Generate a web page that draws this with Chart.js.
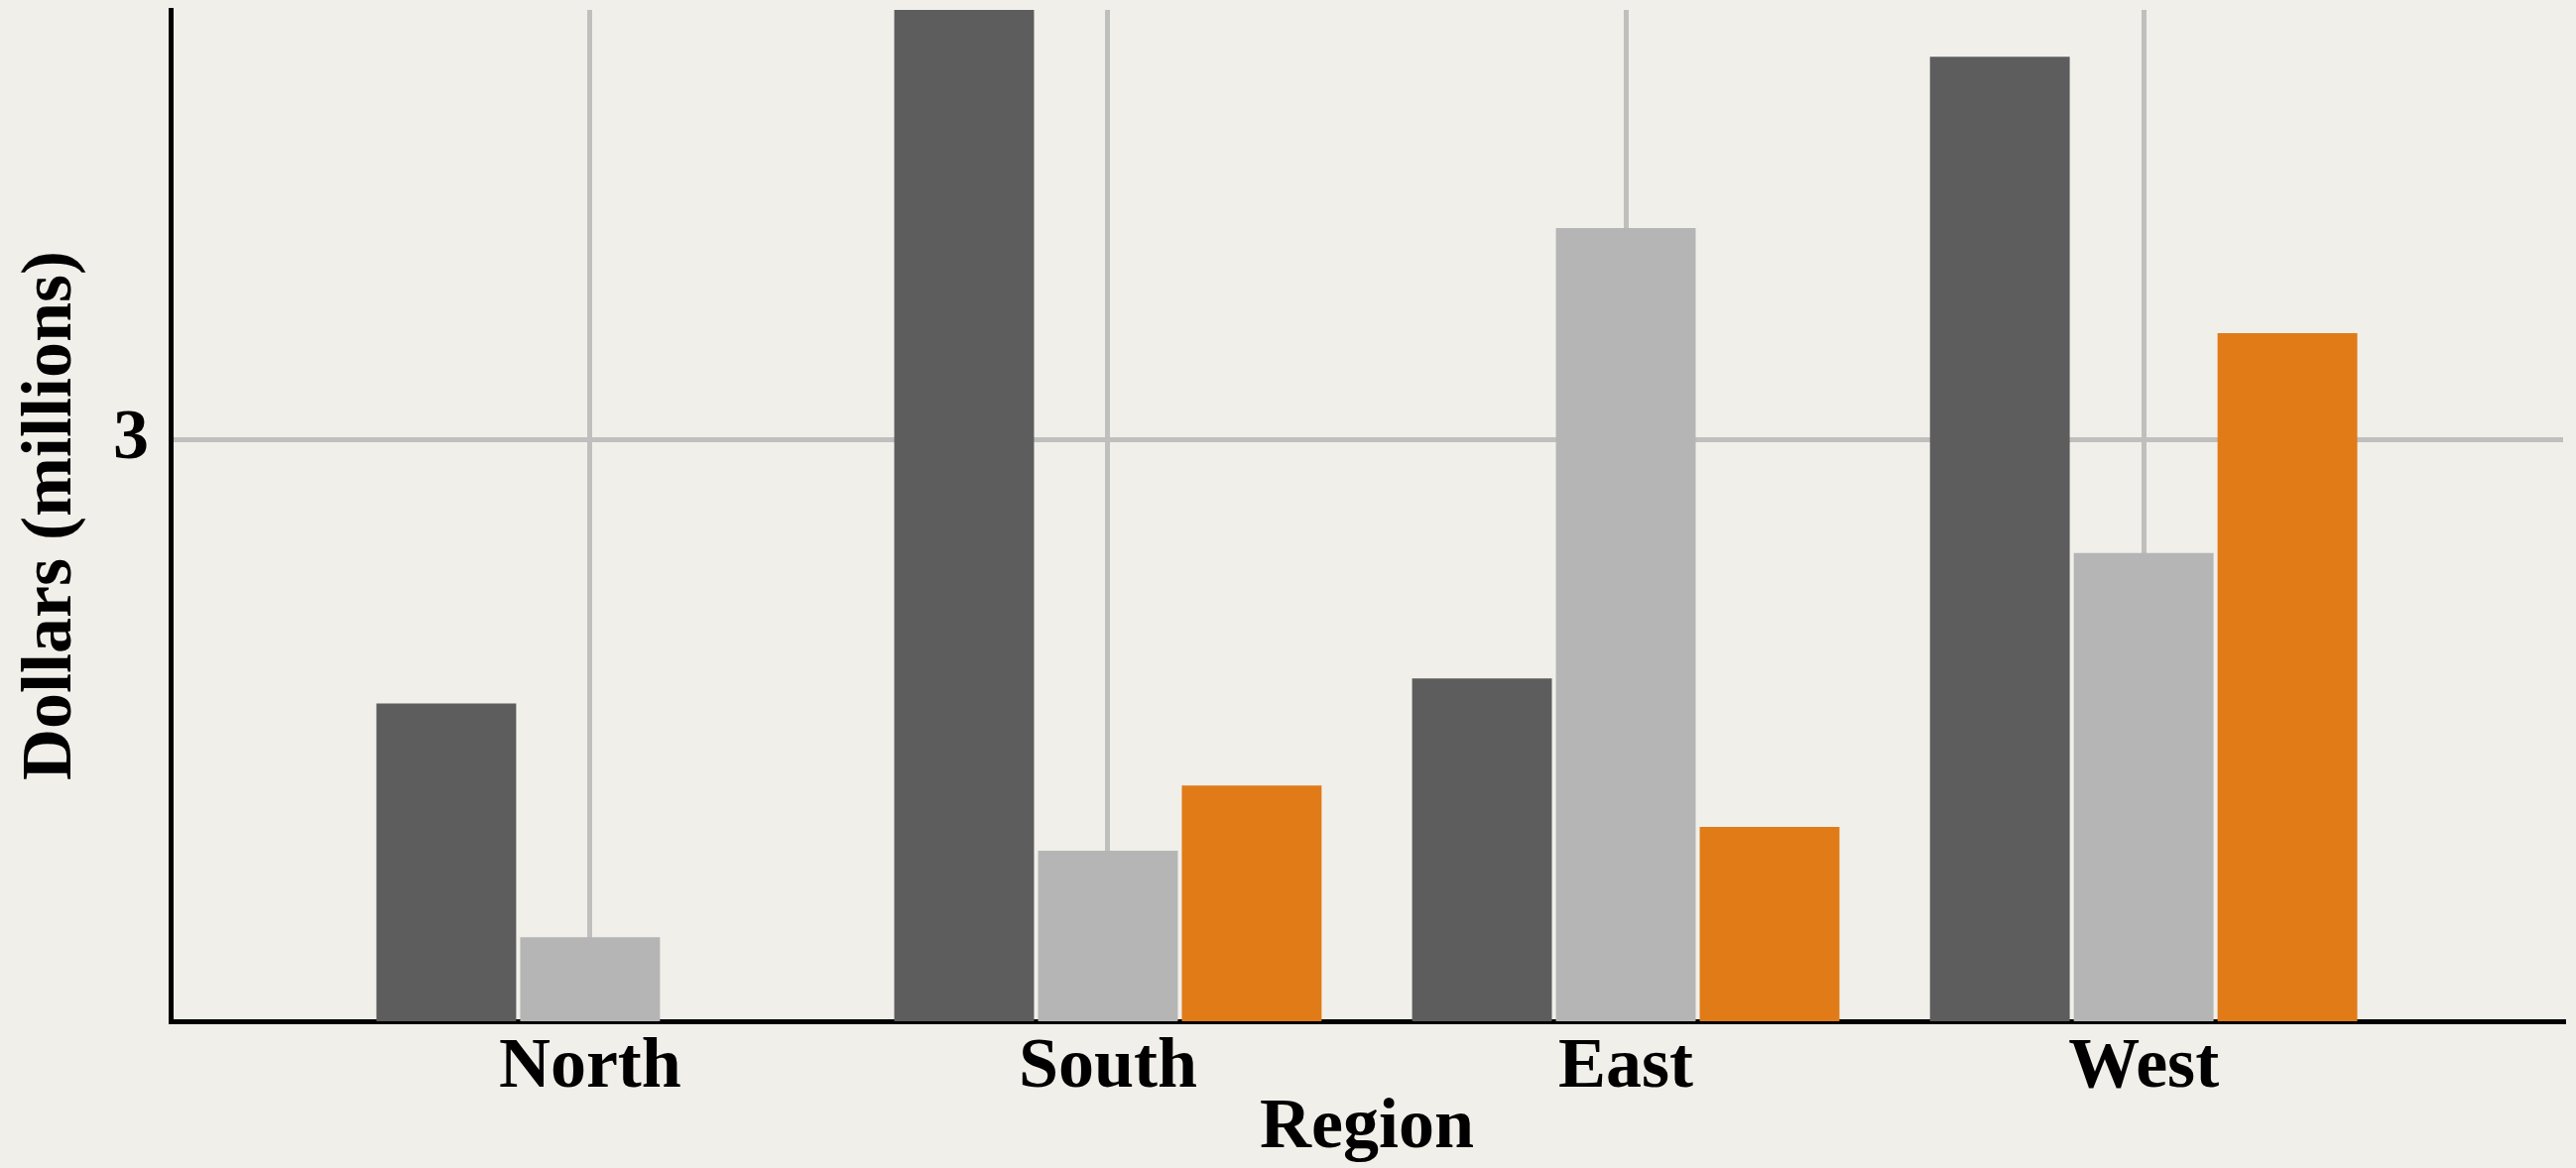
<!DOCTYPE html>
<html>
<head>
<meta charset="utf-8">
<script src="https://cdn.jsdelivr.net/npm/chart.js"></script>
<style>
  body { margin: 0; background: #f0efea; }
  #wrap { width: 2597px; height: 1178px; }
</style>
</head>
<body>
<div id="wrap"><canvas id="regionChart" width="2597" height="1178"></canvas></div>
<script>
// values (millions of dollars, log scale)
const regions = ["North", "South", "East", "West"];
const seriesDark = [1.98, 5.91, 2.06, 5.49];
const seriesLight = [1.37, 1.57, 4.19, 2.51];
const seriesOrange = [1.2, 1.74, 1.63, 3.55];
const yTicks = [3];

const allValues = seriesDark.concat(seriesLight, seriesOrange);
const labelFont = { family: "'Liberation Serif', 'Times New Roman', serif", size: 72, weight: "bold", lineHeight: 1 };

const toPoints = (arr) => arr.map((v, i) => ({ x: i, y: v }));

const bgPlugin = {
  id: "bg",
  beforeDraw(chart) {
    const ctx = chart.ctx;
    ctx.save();
    ctx.fillStyle = "#f0efea";
    ctx.fillRect(0, 0, chart.width, chart.height);
    ctx.restore();
  },
};

const ctx = document.getElementById("regionChart").getContext("2d");
const regionChart = new Chart(ctx, {
  type: "bar",
  data: {
    datasets: [
      { label: "Series 1", data: toPoints(seriesDark), backgroundColor: "#5d5d5d" },
      { label: "Series 2", data: toPoints(seriesLight), backgroundColor: "#b5b5b5" },
      { label: "Series 3", data: toPoints(seriesOrange), backgroundColor: "#e07b18" },
    ],
  },
  options: {
    responsive: false,
    animation: false,
    devicePixelRatio: 1,
    categoryPercentage: 0.833,
    barPercentage: 0.972,
    layout: { padding: { top: 10, right: 13, left: 0, bottom: 0 } },
    plugins: {
      legend: { display: false },
      tooltip: { enabled: false },
    },
    scales: {
      x: {
        type: "linear",
        min: -0.81,
        max: 3.81,
        offset: false,
        afterBuildTicks: (s) => { s.ticks = regions.map((r, i) => ({ value: i })); },
        afterFit: (s) => { s.height = 148; s.paddingLeft = 0; s.paddingRight = 0; },
        grid: { color: "#bfbfbd", lineWidth: 5, drawTicks: false, offset: false },
        border: { display: true, color: "#000", width: 5 },
        ticks: {
          autoSkip: false,
          maxRotation: 0,
          padding: 11,
          color: "#000",
          font: labelFont,
          callback: (v) => regions[v] ?? "",
        },
        title: {
          display: true,
          text: "Region",
          color: "#000",
          font: labelFont,
          padding: { top: 0, bottom: 4 },
        },
      },
      y: {
        type: "logarithmic",
        min: Math.min(...allValues),
        max: Math.max(...allValues),
        afterBuildTicks: (s) => { s.ticks = yTicks.map((v) => ({ value: v })); },
        afterFit: (s) => { s.width = 172; s.paddingTop = 0; s.paddingBottom = 0; },
        grid: { color: "#bfbfbd", lineWidth: 5, drawTicks: false },
        border: { display: true, color: "#000", width: 5 },
        ticks: {
          padding: 22,
          color: "#000",
          font: labelFont,
          callback: (v) => String(v),
        },
        title: {
          display: true,
          text: "Dollars (millions)",
          color: "#000",
          font: labelFont,
          padding: { top: 16, bottom: 0 },
        },
      },
    },
  },
  plugins: [bgPlugin],
});
</script>
</body>
</html>
